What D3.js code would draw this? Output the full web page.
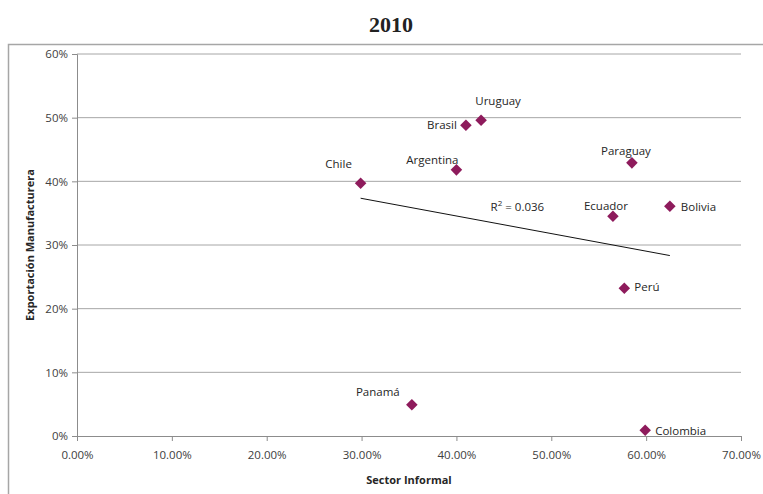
<!DOCTYPE html>
<meta charset="utf-8">
<style>
  body { margin: 0; background: #fff; }
  text { font-family: "Open Sans", "DejaVu Sans", sans-serif; }
</style>
<body>
<script src="https://d3js.org/d3.v7.min.js"></script>
<script>
  // data (percent)
  const countries = ["Chile", "Brasil", "Uruguay", "Argentina", "Paraguay", "Ecuador", "Bolivia", "Perú", "Panamá", "Colombia"];
  const informal = [29.9, 41.0, 42.6, 40.0, 58.5, 56.5, 62.5, 57.7, 35.3, 59.9];
  const exportManuf = [39.7, 48.8, 49.6, 41.8, 42.9, 34.5, 36.1, 23.2, 4.9, 0.9];
  const xTicks = [0, 10, 20, 30, 40, 50, 60, 70];
  const yTicks = [0, 10, 20, 30, 40, 50, 60];

  const W = 763, H = 494;
  const margin = {top: 54, right: 22, bottom: 58, left: 77};
  const width = W - margin.left - margin.right;
  const height = H - margin.top - margin.bottom;

  const svg = d3.select("body").append("svg")
      .attr("width", W)
      .attr("height", H);

  // outer chart frame
  svg.append("rect")
      .attr("x", 8.5).attr("y", 44.5)
      .attr("width", W + 10).attr("height", H)
      .attr("fill", "none")
      .attr("stroke", "#a6a6a6")
      .attr("stroke-width", 1.5);

  svg.append("text")
      .attr("x", 391).attr("y", 32)
      .attr("text-anchor", "middle")
      .style("font-family", "'Liberation Serif', serif")
      .style("font-weight", "bold")
      .style("font-size", "22px")
      .attr("fill", "#222")
      .text("2010");

  const g = svg.append("g")
      .attr("transform", "translate(" + margin.left + "," + margin.top + ")");

  const x = d3.scaleLinear().domain([0, 70]).range([0, width]);
  const y = d3.scaleLinear().domain([0, 60]).range([height, 0]);

  // gridlines
  g.selectAll(".grid").data(yTicks.filter(d => d > 0)).join("line")
      .attr("x1", 0).attr("x2", width)
      .attr("y1", d => y(d)).attr("y2", d => y(d))
      .attr("stroke", "#a6a6a6").attr("stroke-width", 1);

  const xAxis = g.append("g")
      .attr("transform", "translate(0," + height + ")")
      .call(d3.axisBottom(x).tickValues(xTicks).tickSize(5).tickPadding(10)
        .tickFormat(d => d.toFixed(2) + "%"));
  const yAxis = g.append("g")
      .call(d3.axisLeft(y).tickValues(yTicks).tickSize(5).tickPadding(4)
        .tickFormat(d => d + "%"));

  [xAxis, yAxis].forEach(a => {
    a.select(".domain").attr("stroke", "#8c8c8c");
    a.selectAll(".tick line").attr("stroke", "#8c8c8c");
    a.selectAll(".tick text")
        .attr("fill", "#404040")
        .style("font-size", "11.5px")
        .style("font-family", "'Open Sans', sans-serif");
  });
  xAxis.selectAll(".tick text").attr("dy", "0.71em");

  const points = countries.map((c, i) => ({name: c, x: informal[i], y: exportManuf[i]}));

  // linear trendline (least squares over the points)
  const mx = d3.mean(points, d => d.x), my = d3.mean(points, d => d.y);
  const sxy = d3.sum(points, d => (d.x - mx) * (d.y - my));
  const sxx = d3.sum(points, d => (d.x - mx) ** 2);
  const syy = d3.sum(points, d => (d.y - my) ** 2);
  const slope = sxy / sxx, icpt = my - slope * mx;
  const r2 = sxy * sxy / (sxx * syy);
  const [x0, x1] = d3.extent(points, d => d.x);

  g.append("line")
      .attr("x1", x(x0)).attr("y1", y(icpt + slope * x0))
      .attr("x2", x(x1)).attr("y2", y(icpt + slope * x1))
      .attr("stroke", "#111").attr("stroke-width", 1);

  const r2Text = g.append("text")
      .attr("x", x(43.6)).attr("y", y(35.3))
      .attr("fill", "#262626")
      .style("font-size", "11.5px");
  r2Text.append("tspan").text("R");
  r2Text.append("tspan").attr("dy", -5).style("font-size", "8px").text("2");
  r2Text.append("tspan").attr("dy", 5).text(" = " + r2.toFixed(3));

  // markers
  const diamond = d3.symbol().type(d3.symbolDiamond2).size(85);
  g.selectAll(".pt").data(points).join("path")
      .attr("transform", d => "translate(" + x(d.x) + "," + y(d.y) + ")")
      .attr("d", diamond)
      .attr("fill", "#8e1b5c");

  // label placement beside each marker: [dx, dy, anchor]
  const place = {
    "Chile": [-22, -15, "middle"],
    "Brasil": [-9, 4, "end"],
    "Uruguay": [17, -15, "middle"],
    "Argentina": [-24, -6, "middle"],
    "Paraguay": [-6, -8, "middle"],
    "Ecuador": [-7, -6, "middle"],
    "Bolivia": [11, 5, "start"],
    "Perú": [10, 3, "start"],
    "Panamá": [-34, -9, "middle"],
    "Colombia": [10, 5, "start"]
  };
  g.selectAll(".lbl").data(points).join("text")
      .attr("x", d => x(d.x) + place[d.name][0])
      .attr("y", d => y(d.y) + place[d.name][1])
      .attr("text-anchor", d => place[d.name][2])
      .attr("fill", "#262626")
      .style("font-size", "11.5px")
      .text(d => d.name);

  // axis titles
  svg.append("text")
      .attr("x", margin.left + x(35)).attr("y", 484)
      .attr("text-anchor", "middle")
      .style("font-weight", "bold")
      .style("font-size", "11px")
      .attr("fill", "#262626")
      .text("Sector Informal");

  svg.append("text")
      .attr("transform", "translate(34," + (margin.top + y(30)) + ") rotate(-90)")
      .attr("text-anchor", "middle")
      .style("font-weight", "bold")
      .style("font-size", "11px")
      .attr("fill", "#262626")
      .text("Exportación Manufacturera");
</script>
</body>
